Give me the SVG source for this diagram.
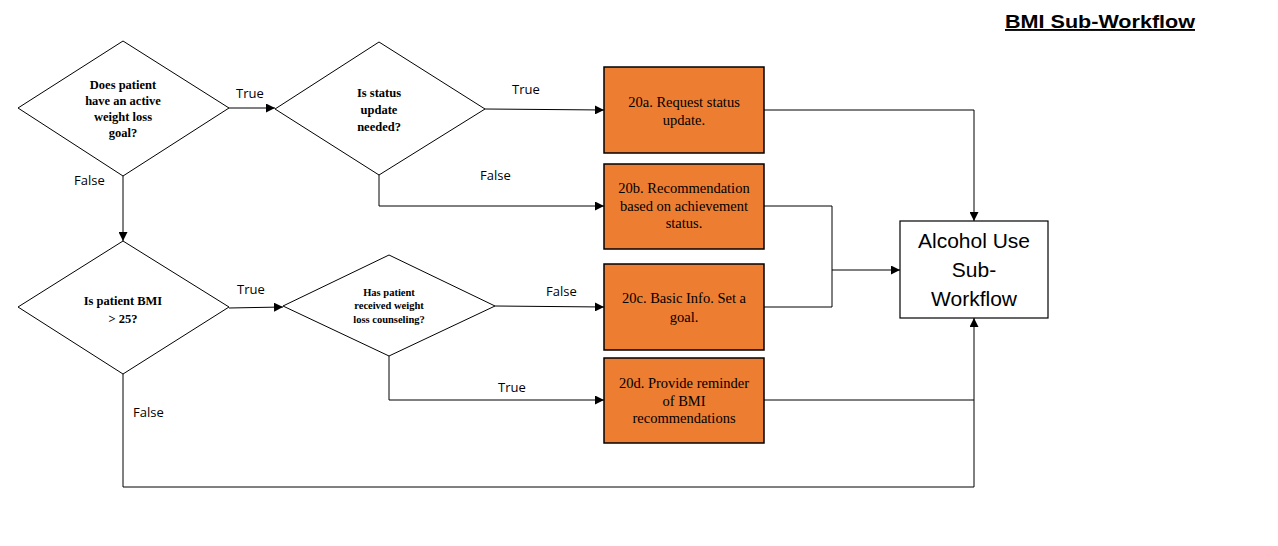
<svg xmlns="http://www.w3.org/2000/svg" width="1278" height="546" viewBox="0 0 1278 546">
<defs>
<marker id="arr" viewBox="0 0 10 10" refX="10" refY="5" markerWidth="9" markerHeight="9" markerUnits="userSpaceOnUse" orient="auto">
<path d="M0,0 L10,5 L0,10 z" fill="#000"/>
</marker>
</defs>
<style>
.dia{fill:#fff;stroke:#000;stroke-width:1}
.box{fill:#ED7D31;stroke:#000;stroke-width:1.5}
.end{fill:#fff;stroke:#000;stroke-width:1.2}
.qt{font-family:"Liberation Serif","Times New Roman",serif;font-weight:bold;font-size:12.5px;text-anchor:middle;fill:#000}
.qs{font-family:"Liberation Serif","Times New Roman",serif;font-weight:bold;font-size:10.5px;text-anchor:middle;fill:#000}
.bt{font-family:"Liberation Serif","Times New Roman",serif;font-size:14.5px;text-anchor:middle;fill:#000}
.lb{font-family:"Open Sans","Liberation Sans",sans-serif;font-size:13px;fill:#000}
.et{font-family:"Liberation Sans",Arial,sans-serif;font-size:21px;text-anchor:middle;fill:#000}
.ti{font-family:"Liberation Sans",Arial,sans-serif;font-size:19px;font-weight:bold;fill:#000;text-decoration:underline}
.c{fill:none;stroke:#000;stroke-width:1}
</style>
<rect width="1278" height="546" fill="#fff"/>
<text class="ti" x="1005" y="28" textLength="190" lengthAdjust="spacingAndGlyphs">BMI Sub-Workflow</text>

<g id="connectors">
<path class="c" d="M229,108 L275,108" marker-end="url(#arr)"/>
<path class="c" d="M485,109 L604,110" marker-end="url(#arr)"/>
<path class="c" d="M379,175 L379,206 L604,206" marker-end="url(#arr)"/>
<path class="c" d="M123,176 L123,241" marker-end="url(#arr)"/>
<path class="c" d="M229,308 L283,307" marker-end="url(#arr)"/>
<path class="c" d="M495,306 L604,307" marker-end="url(#arr)"/>
<path class="c" d="M389,356 L389,400 L604,400" marker-end="url(#arr)"/>
<path class="c" d="M123,374 L123,487 L974,487 L974,318" marker-end="url(#arr)"/>
<path class="c" d="M764,110 L974,110 L974,221" marker-end="url(#arr)"/>
<path class="c" d="M764,206 L832,206 L832,307 L764,307"/>
<path class="c" d="M832,270 L900,270" marker-end="url(#arr)"/>
<path class="c" d="M764,400 L974,400"/>
<text class="lb" x="236" y="98">True</text>
<text class="lb" x="512" y="94">True</text>
<text class="lb" x="480" y="180">False</text>
<text class="lb" x="74" y="185">False</text>
<text class="lb" x="237" y="294">True</text>
<text class="lb" x="546" y="296">False</text>
<text class="lb" x="498" y="392">True</text>
<text class="lb" x="133" y="417">False</text>
</g>

<g id="d1">
<polygon class="dia" points="18,108 123,41 229,108 123,176"/>
<text class="qt" x="123" y="89">Does patient</text>
<text class="qt" x="123" y="105">have  an active</text>
<text class="qt" x="123" y="121">weight loss</text>
<text class="qt" x="123" y="137">goal?</text>
</g>
<g id="d2">
<polygon class="dia" points="275,109 379,42 485,109 379,175"/>
<text class="qt" x="379" y="97">Is status</text>
<text class="qt" x="379" y="114">update</text>
<text class="qt" x="379" y="131">needed?</text>
</g>
<g id="d3">
<polygon class="dia" points="18,307 123,241 229,307 123,374"/>
<text class="qt" x="123" y="305">Is patient  BMI</text>
<text class="qt" x="123" y="323">&gt; 25?</text>
</g>
<g id="d4">
<polygon class="dia" points="283,306 389,255 495,306 389,356"/>
<text class="qs" x="389" y="296">Has patient</text>
<text class="qs" x="389" y="309">received weight</text>
<text class="qs" x="389" y="323">loss counseling?</text>
</g>

<g id="b20a">
<rect class="box" x="604" y="67" width="160" height="86"/>
<text class="bt" x="684" y="107">20a. Request status</text>
<text class="bt" x="684" y="125">update.</text>
</g>
<g id="b20b">
<rect class="box" x="604" y="164" width="160" height="85"/>
<text class="bt" x="684" y="193">20b. Recommendation</text>
<text class="bt" x="684" y="211">based on achievement</text>
<text class="bt" x="684" y="228">status.</text>
</g>
<g id="b20c">
<rect class="box" x="604" y="264" width="160" height="86"/>
<text class="bt" x="684" y="303">20c. Basic Info. Set a</text>
<text class="bt" x="684" y="322">goal.</text>
</g>
<g id="b20d">
<rect class="box" x="604" y="358" width="160" height="85"/>
<text class="bt" x="684" y="388">20d. Provide reminder</text>
<text class="bt" x="684" y="406">of BMI</text>
<text class="bt" x="684" y="423">recommendations</text>
</g>
<g id="alcohol">
<rect class="end" x="900" y="221" width="148" height="97"/>
<text class="et" x="974" y="248">Alcohol Use</text>
<text class="et" x="974" y="277">Sub-</text>
<text class="et" x="974" y="306">Workflow</text>
</g>
</svg>
